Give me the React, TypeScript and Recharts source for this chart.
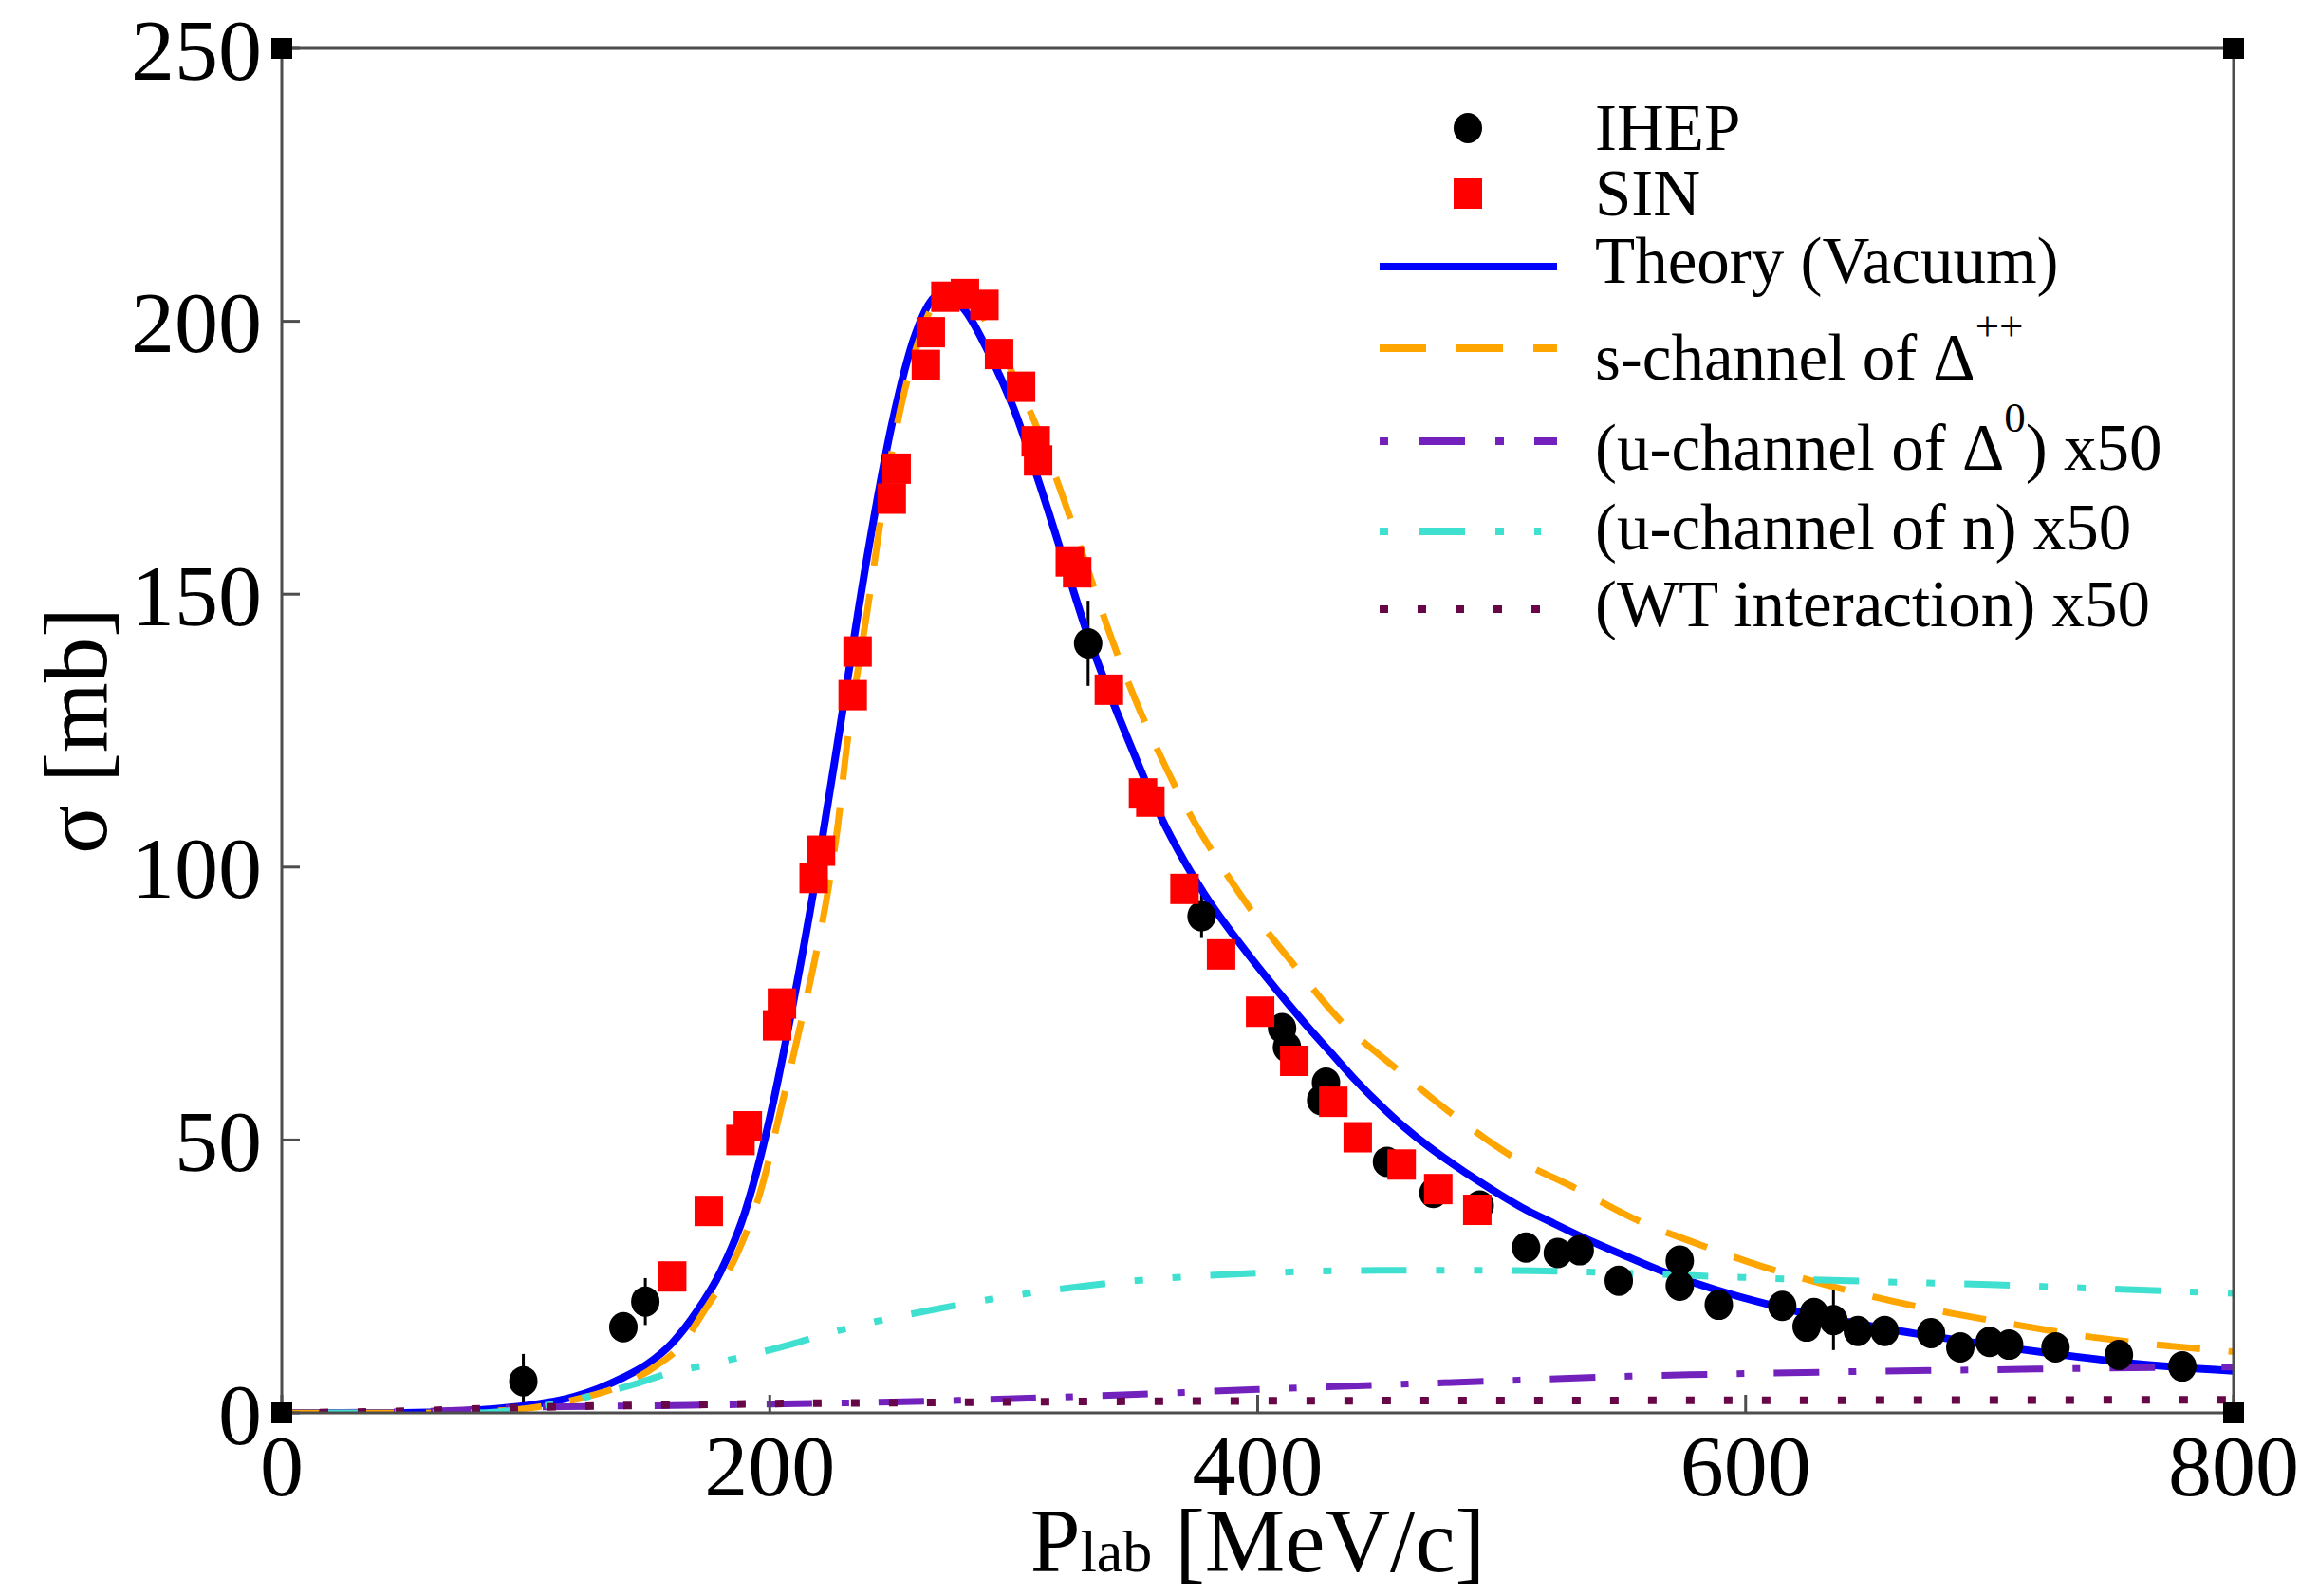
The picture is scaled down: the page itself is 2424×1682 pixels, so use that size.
import React from "react";
import {
  ComposedChart,
  Line,
  Scatter,
  XAxis,
  YAxis,
  ErrorBar,
  ReferenceDot,
  Legend,
} from "recharts";

const FONT = "'Liberation Serif', 'Times New Roman', serif";
const FRAME = "#4d4d4d";
const W = 2424;
const H = 1682;

// ticks
const xMajor = [0, 200, 400, 600, 800];
const xMinor = [100, 300, 500, 700];
const yMajor = [0, 50, 100, 150, 200, 250];
const yMinor = [25, 75, 125, 175, 225];

// IHEP data: [P_lab, sigma, error]
const ihep = [
  [99, 5.8, 5], [140, 15.7, 1.5], [149, 20.4, 4.3], [330.5, 141, 7.8], [377, 91, 4],
  [410, 70.5, 2], [412, 67, 2], [426, 57.3, 1.5], [428, 60.5, 1.5], [453, 46, 1.5],
  [472, 40.3, 1.5], [491, 38, 1.5], [510, 30.3, 1.5], [523, 29.3, 1], [532, 29.8, 1],
  [548, 24.2, 1], [573, 27.9, 2], [573, 23.3, 1], [589, 19.8, 1], [615, 19.6, 1],
  [625, 15.8, 1], [628, 18.3, 1], [636, 17, 5.5], [646, 15, 1], [657, 15, 1],
  [676, 14.6, 1], [688, 12, 1], [700, 13, 1], [708, 12.5, 1], [727, 12, 1],
  [753, 10.6, 1], [779, 8.5, 1],
];

// SIN data: [P_lab, sigma]
const sin = [
  [160, 25], [175, 37], [188, 50], [191, 52.5], [203, 71], [205, 75], [218, 98],
  [221, 103], [234, 131.5], [236, 139.5], [250, 167.5], [252, 173], [264, 192],
  [266, 198], [272, 204.5], [280, 205], [288, 203], [294, 194], [303, 188],
  [309, 178], [310, 174.5], [323, 156], [326, 154], [339, 132.5], [353, 113.5],
  [356, 112], [370, 96], [385, 84], [401, 73.5], [415, 64.5], [431, 57],
  [441, 50.5], [459, 45.5], [474, 41], [490, 37.2],
];

// Theory (Vacuum)
const theoryVacuum = [
  [0, 0], [40, 0], [60, 0.1], [80, 0.5], [100, 1.3], [120, 3], [130, 4.5],
  [140, 6.5], [150, 9], [160, 12.8], [170, 18.5], [180, 26], [190, 37], [200, 54],
  [210, 76], [220, 101], [230, 129], [240, 157], [250, 181], [260, 198], [270, 205],
  [280, 202], [290, 194], [300, 184], [310, 171], [320, 157], [330, 143], [340, 131],
  [350, 120], [360, 109.5], [370, 101], [380, 93.8], [390, 87.6], [400, 81.8],
  [410, 76.3], [420, 71], [430, 66], [440, 61], [450, 56.5], [460, 52.4],
  [470, 48.8], [480, 45.6], [490, 42.6], [500, 39.8], [510, 37.2], [520, 35],
  [535, 31.8], [550, 28.9], [565, 26.1], [580, 23.7], [595, 21.6], [610, 19.8],
  [630, 17.7], [650, 16], [670, 14.5], [690, 13.1], [710, 11.8], [730, 10.6],
  [760, 9], [800, 7.7],
];

// s-channel of Delta++
const sChannelDeltaPP = [
  [0, 0], [60, 0], [80, 0.2], [100, 0.8], [120, 2.4], [140, 5.2], [154, 8.8],
  [165, 13], [172, 17.9], [180, 23.5], [187, 29.5], [197, 41.8], [204, 54.7],
  [211, 68], [218, 82], [224, 96], [228, 108], [231, 120], [240, 147], [250, 176],
  [260, 195], [270, 204], [280, 204], [290, 199], [300, 190], [310, 180],
  [320, 168], [330, 155], [340, 142], [350, 130.5], [360, 120.5], [370, 111.5],
  [384, 101], [397, 92.3], [415, 82], [433, 72.3], [457, 63], [481, 54.3],
  [505, 46.8], [531, 41], [556, 35.2], [582, 30.7], [607, 26.8], [632, 23.6],
  [660, 20.5], [685, 18.2], [710, 16.2], [737, 14.2], [764, 12.7], [800, 11.2],
];

// (u-channel of Delta0) x50
const uChannelDelta0 = [
  [0, 0], [60, 0.3], [100, 1], [150, 1.3], [200, 1.6], [250, 2], [300, 2.6],
  [350, 3.4], [400, 4.3], [450, 5.1], [500, 5.9], [550, 6.7], [600, 7.2],
  [650, 7.6], [700, 7.9], [750, 8.2], [800, 8.4],
];

// (u-channel of n) x50
const uChannelN = [
  [0, 0], [80, 0], [100, 0.8], [110, 1.5], [120, 2.4], [130, 3.5], [145, 5.3],
  [158, 7.2], [172, 8.6], [189, 10.3], [209, 12.6], [222, 14.3], [241, 16.5],
  [260, 18.3], [280, 20], [300, 21.5], [330, 23.3], [360, 24.6], [400, 25.6],
  [450, 26.1], [500, 26.1], [550, 25.6], [600, 24.8], [650, 24.1], [700, 23.5],
  [750, 22.7], [800, 21.9],
];

// (WT interaction) x50
const wtInteraction = [
  [0, 0], [50, 0.3], [100, 1], [150, 1.4], [200, 1.7], [300, 2], [400, 2.2],
  [600, 2.3], [800, 2.4],
];

const corners = [[0, 0], [800, 0], [0, 250], [800, 250]];

const pts = (a: number[][]) => a.map(([x, y, err]) => ({ x, y, err }));

const lineStyle = { stroke: FRAME, strokeWidth: 3 };
const tickFont = { fontSize: 92, fill: "#000", fontFamily: FONT };

function LegendBox() {
  const x1 = 54;
  const tx = 281;
  const t = { fontSize: 69, fontFamily: FONT, fill: "#000" };
  return (
    <svg width={1000} height={620} style={{ overflow: "visible" }}>
      <ellipse cx={147} cy={55} rx={15} ry={16} fill="#000" />
      <text x={tx} y={78} {...t}>IHEP</text>
      <rect x={132} y={108} width={30} height={32} fill="#ff0000" />
      <text x={tx} y={147} {...t}>SIN</text>
      <line x1={x1} x2={241} y1={201} y2={201} stroke="#0000ff" strokeWidth={8} />
      <text x={tx} y={218} {...t}>Theory (Vacuum)</text>
      <line x1={x1} x2={241} y1={287} y2={287} stroke="#ffa500" strokeWidth={8} strokeDasharray="49 32" />
      <text x={tx} y={320} {...t}>
        s-channel of Δ<tspan dy={-41} fontSize={45}>++</tspan>
      </text>
      <line x1={x1} x2={241} y1={385} y2={385} stroke="#7221bc" strokeWidth={8} strokeDasharray="9 32 49 32" />
      <text x={tx} y={415} {...t}>
        (u-channel of Δ<tspan dy={-40} fontSize={45}>0</tspan>
        <tspan dy={40}>) x50</tspan>
      </text>
      <line x1={x1} x2={224} y1={480} y2={480} stroke="#40e0d0" strokeWidth={8} strokeDasharray="9 32 49 32 9 32" />
      <text x={tx} y={499} {...t}>(u-channel of n) x50</text>
      <line x1={x1} x2={224} y1={562} y2={562} stroke="#670748" strokeWidth={8} strokeDasharray="9 31" />
      <text x={tx} y={580} {...t}>(WT interaction) x50</text>
    </svg>
  );
}

function XLabel(props: any) {
  const vb = props.viewBox || {};
  return (
    <text x={vb.x + vb.width / 2} y={1656} textAnchor="middle" fontFamily={FONT} fill="#000">
      <tspan fontSize={95}>P</tspan>
      <tspan fontSize={62}>lab</tspan>
      <tspan fontSize={95}> [MeV/c]</tspan>
    </text>
  );
}

function YLabel(props: any) {
  const vb = props.viewBox || {};
  const cy = vb.y + vb.height / 2;
  return (
    <text
      x={80}
      y={cy}
      textAnchor="middle"
      dominantBaseline="central"
      transform={`rotate(-90 80 ${cy})`}
      fontFamily={FONT}
      fontSize={95}
      fill="#000"
    >
      σ [mb]
    </text>
  );
}

export default function App() {
  return (
    <div style={{ position: "absolute", left: 0, top: 0, width: W, height: H, background: "#fff" }}>
      <ComposedChart width={W} height={H} margin={{ top: 49, right: 68, bottom: 191, left: 295 }}>
        <XAxis
          xAxisId="x" dataKey="x" type="number" domain={[0, 800]} ticks={xMajor} interval={0}
          height={1} axisLine={lineStyle} tickLine={lineStyle} tickSize={-19} tickMargin={41}
          tick={tickFont} allowDataOverflow label={{ content: XLabel }}
        />
        <XAxis
          xAxisId="xm" type="number" domain={[0, 800]} ticks={xMinor} interval={0}
          height={1} axisLine={false} tickLine={lineStyle} tickSize={-10} tick={false}
        />
        <XAxis
          xAxisId="xt" orientation="top" type="number" domain={[0, 800]} ticks={xMajor} interval={0}
          height={1} axisLine={lineStyle} tickLine={lineStyle} tickSize={-19} tick={false}
        />
        <XAxis
          xAxisId="xtm" orientation="top" type="number" domain={[0, 800]} ticks={xMinor} interval={0}
          height={1} axisLine={false} tickLine={lineStyle} tickSize={-10} tick={false}
        />
        <YAxis
          yAxisId="y" dataKey="y" type="number" domain={[0, 250]} ticks={yMajor} interval={0}
          width={1} axisLine={lineStyle} tickLine={lineStyle} tickSize={-19} tickMargin={40}
          tick={tickFont} allowDataOverflow label={{ content: YLabel }}
        />
        <YAxis
          yAxisId="ym" type="number" domain={[0, 250]} ticks={yMinor} interval={0}
          width={1} axisLine={false} tickLine={lineStyle} tickSize={-10} tick={false}
        />
        <YAxis
          yAxisId="yr" orientation="right" type="number" domain={[0, 250]} ticks={yMajor} interval={0}
          width={1} axisLine={lineStyle} tickLine={lineStyle} tickSize={-19} tick={false}
        />
        <YAxis
          yAxisId="yrm" orientation="right" type="number" domain={[0, 250]} ticks={yMinor} interval={0}
          width={1} axisLine={false} tickLine={lineStyle} tickSize={-10} tick={false}
        />

        <Scatter
          xAxisId="x" yAxisId="y" data={pts(ihep)} fill="#000" isAnimationActive={false}
          shape={(p: any) => <ellipse cx={p.cx} cy={p.cy} rx={15} ry={16} fill="#000" />}
        >
          <ErrorBar dataKey="err" direction="y" width={0} stroke="#000" strokeWidth={3} />
        </Scatter>
        <Scatter
          xAxisId="x" yAxisId="y" data={pts(sin)} fill="#ff0000" isAnimationActive={false}
          shape={(p: any) => <rect x={p.cx - 15} y={p.cy - 16} width={30} height={32} fill="#ff0000" />}
        />

        <Line xAxisId="x" yAxisId="y" data={pts(theoryVacuum)} dataKey="y" type="monotone"
          stroke="#0000ff" strokeWidth={8} dot={false} activeDot={false} isAnimationActive={false} />
        <Line xAxisId="x" yAxisId="y" data={pts(sChannelDeltaPP)} dataKey="y" type="monotone"
          stroke="#ffa500" strokeWidth={7} strokeDasharray="46 30" dot={false} activeDot={false} isAnimationActive={false} />
        <Line xAxisId="x" yAxisId="y" data={pts(uChannelDelta0)} dataKey="y" type="monotone"
          stroke="#7221bc" strokeWidth={7} strokeDasharray="8 31 48 31" dot={false} activeDot={false} isAnimationActive={false} />
        <Line xAxisId="x" yAxisId="y" data={pts(uChannelN)} dataKey="y" type="monotone"
          stroke="#40e0d0" strokeWidth={7} strokeDasharray="9 31 48 31 9 31" dot={false} activeDot={false} isAnimationActive={false} />
        <Line xAxisId="x" yAxisId="y" data={pts(wtInteraction)} dataKey="y" type="monotone"
          stroke="#670748" strokeWidth={8} strokeDasharray="9 31" dot={false} activeDot={false} isAnimationActive={false} />

        {corners.map(([cx, cy], i) => (
          <ReferenceDot
            key={i} xAxisId="x" yAxisId="y" x={cx} y={cy} r={11} ifOverflow="visible"
            shape={(p: any) => <rect x={p.cx - 11} y={p.cy - 11} width={22} height={22} fill="#000" />}
          />
        ))}

        <Legend
          layout="horizontal" verticalAlign="middle" align="center"
          wrapperStyle={{ left: 1400, top: 80, width: 1000, height: 620 }}
          content={() => <LegendBox />}
        />
      </ComposedChart>
    </div>
  );
}
